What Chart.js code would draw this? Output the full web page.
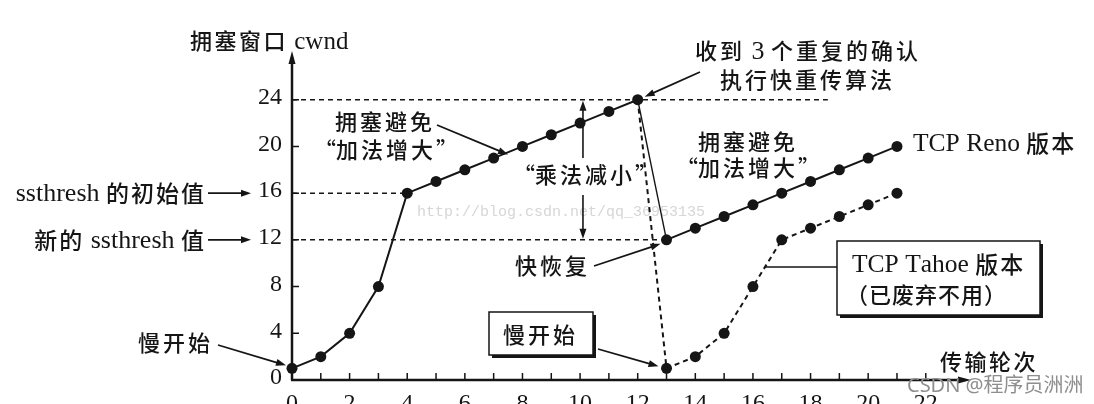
<!DOCTYPE html>
<html>
<head>
<meta charset="utf-8">
<script src="https://cdn.jsdelivr.net/npm/chart.js@4.4.0/dist/chart.umd.min.js"></script>
<style>
  html, body { margin: 0; padding: 0; background: #fff; overflow: hidden; }
</style>
</head>
<body>
<canvas id="tcpChart" width="1094" height="404"></canvas>
<script>
// --- DATA ---
const rounds = [0, 1, 2, 3, 4, 5, 6, 7, 8, 9, 10, 11, 12, 13, 14, 15, 16, 17, 18, 19, 20, 21];
const renoCwnd = [1, 2, 4, 8, 16, 17, 18, 19, 20, 21, 22, 23, 24, 12, 13, 14, 15, 16, 17, 18, 19, 20];
const tahoeRounds = [12, 13, 14, 15, 16, 17, 18, 19, 20, 21];
const tahoeCwnd = [24, 1, 2, 4, 8, 12, 13, 14, 15, 16];
const yTickValues = [0, 4, 8, 12, 16, 20, 24];
const xTickLabels = [0, 2, 4, 6, 8, 10, 12, 14, 16, 18, 20, 22];
const thresholdLevels = [24, 16, 12];
const thresholdEnds = [18.6, 4, 13];

// --- STYLE ---
const INK = '#151515';
const LATIN = '"Liberation Serif", serif';
const CJK = '"Noto Sans CJK SC", sans-serif';

function toPoints(xs, ys) {
    return xs.map((x, i) => ({ x: x, y: ys[i] }));
}

// --- HELPERS FOR THE ANNOTATION PLUGIN ---
// draws char by char: CJK glyphs get their own size + extra spacing, latin stays serif
function text(ctx, s, x, y, align, size, spacing, latinSize) {
    ctx.save();
    ctx.fillStyle = INK;
    ctx.textAlign = 'left';
    ctx.textBaseline = 'middle';
    const sp = spacing || 0;
    const ls = latinSize || size;
    const isCJK = c => /[\u3000-\u9fff\uff00-\uffef\u201c\u201d]/.test(c);
    const isQuote = c => c === '\u201c' || c === '\u201d';
    const fontOf = c => (isCJK(c) ? '500 ' + size + 'px ' + CJK : ls + 'px ' + LATIN);
    const chars = Array.from(s);
    const widths = chars.map(c => {
        ctx.font = fontOf(c);
        return ctx.measureText(c).width + (isCJK(c) && !isQuote(c) ? sp : 0);
    });
    let total = widths.reduce((a, b) => a + b, 0);
    const last = chars[chars.length - 1];
    if (isCJK(last) && !isQuote(last)) total -= sp;
    let cx = x;
    if (align === 'right') cx = x - total;
    if (align === 'center') cx = x - total / 2;
    chars.forEach((c, i) => {
        ctx.font = fontOf(c);
        ctx.fillText(c, cx, isCJK(c) ? y : y + 1);
        cx += widths[i];
    });
    ctx.restore();
}

function arrow(ctx, x1, y1, x2, y2, width) {
    const a = Math.atan2(y2 - y1, x2 - x1);
    const len = 10, half = 3.5;
    ctx.save();
    ctx.strokeStyle = INK;
    ctx.fillStyle = INK;
    ctx.lineWidth = width || 1.8;
    ctx.beginPath();
    ctx.moveTo(x1, y1);
    ctx.lineTo(x2 - Math.cos(a) * len * 0.7, y2 - Math.sin(a) * len * 0.7);
    ctx.stroke();
    ctx.beginPath();
    ctx.moveTo(x2, y2);
    ctx.lineTo(x2 - Math.cos(a) * len - Math.sin(a) * half, y2 - Math.sin(a) * len + Math.cos(a) * half);
    ctx.lineTo(x2 - Math.cos(a) * len + Math.sin(a) * half, y2 - Math.sin(a) * len - Math.cos(a) * half);
    ctx.closePath();
    ctx.fill();
    ctx.restore();
}

function line(ctx, x1, y1, x2, y2, width) {
    ctx.save();
    ctx.strokeStyle = INK;
    ctx.lineWidth = width || 1.5;
    ctx.beginPath();
    ctx.moveTo(x1, y1);
    ctx.lineTo(x2, y2);
    ctx.stroke();
    ctx.restore();
}

function shadowBox(ctx, x, y, w, h) {
    ctx.save();
    ctx.fillStyle = INK;
    ctx.fillRect(x + 3, y + 3, w, h);
    ctx.fillStyle = '#fff';
    ctx.fillRect(x, y, w, h);
    ctx.strokeStyle = INK;
    ctx.lineWidth = 1.5;
    ctx.strokeRect(x, y, w, h);
    ctx.restore();
}

const annotations = {
    id: 'annotations',
    beforeDatasetsDraw(chart) {
        const ctx = chart.ctx;
        ctx.save();
        ctx.font = '15px "Liberation Mono", monospace';
        ctx.fillStyle = '#d6d6d6';
        ctx.textBaseline = 'middle';
        ctx.fillText('http://blog.csdn.net/qq_36953135', 417, 212);
        ctx.restore();
    },
    afterDatasetsDraw(chart) {
        const ctx = chart.ctx;
        const xs = chart.scales.x, ys = chart.scales.y;
        const px = v => xs.getPixelForValue(v);
        const py = v => ys.getPixelForValue(v);
        const x0 = px(0), y0 = py(0);
        const area = chart.chartArea;

        // axes with arrow heads
        ctx.save();
        ctx.strokeStyle = INK;
        ctx.lineWidth = 2.5;
        ctx.beginPath();
        ctx.moveTo(x0, y0);
        ctx.lineTo(x0, area.top + 4);
        ctx.moveTo(x0 - 1, y0);
        ctx.lineTo(area.right - 4, y0);
        ctx.stroke();
        ctx.fillStyle = INK;
        ctx.beginPath();
        ctx.moveTo(x0, area.top - 2);
        ctx.lineTo(x0 - 3.5, area.top + 11);
        ctx.lineTo(x0 + 3.5, area.top + 11);
        ctx.closePath();
        ctx.fill();
        ctx.beginPath();
        ctx.moveTo(area.right + 2, y0);
        ctx.lineTo(area.right - 11, y0 - 3.5);
        ctx.lineTo(area.right - 11, y0 + 3.5);
        ctx.closePath();
        ctx.fill();

        // inward ticks
        ctx.lineWidth = 1.5;
        ctx.beginPath();
        yTickValues.forEach(v => {
            if (v === 0) return;
            ctx.moveTo(x0, py(v));
            ctx.lineTo(x0 + 7, py(v));
        });
        for (let r = 1; r <= 22; r++) {
            ctx.moveTo(px(r), y0);
            ctx.lineTo(px(r), y0 - 7);
        }
        ctx.stroke();
        ctx.restore();

        // tick labels
        yTickValues.forEach(v => text(ctx, String(v), x0 - 10, py(v) - 3, 'right', 24));
        xTickLabels.forEach(v => text(ctx, String(v), px(v), 403, 'center', 24));

        // axis titles
        text(ctx, '拥塞窗口 cwnd', 190, 41, 'left', 22, 2.5, 25);
        text(ctx, '传输轮次', 940, 362, 'left', 22, 2.5);

        // ssthresh labels
        text(ctx, 'ssthresh 的初始值', 204, py(16), 'right', 23, 2, 26);
        arrow(ctx, 208, py(16), 251, py(16), 1.6);
        text(ctx, '新的 ssthresh 值', 204, py(12), 'right', 23, 2, 26);
        arrow(ctx, 208, py(12), 251, py(12), 1.6);

        // slow start (left)
        text(ctx, '慢开始', 138, 343, 'left', 22, 3);
        arrow(ctx, 218, 345, px(0) - 6, py(1) - 3);

        // congestion avoidance (left)
        text(ctx, '拥塞避免', 335, 122, 'left', 22, 3);
        text(ctx, '“加法增大”', 314, 150, 'left', 22, 3);
        arrow(ctx, 437, 125, px(7.5), py(19.3));

        // fast retransmit
        text(ctx, '收到 3 个重复的确认', 695, 51, 'left', 22, 3, 26);
        text(ctx, '执行快重传算法', 720, 80, 'left', 22, 3);
        arrow(ctx, 700, 72, px(12) + 7, py(24) - 3);

        // multiplicative decrease
        text(ctx, '“乘法减小”', 513, 175, 'left', 22, 3);
        arrow(ctx, px(10.1), 158, px(10.1), py(24) + 1, 1.6);
        arrow(ctx, px(10.1), 195, px(10.1), py(12) - 1, 1.6);

        // congestion avoidance (right)
        text(ctx, '拥塞避免', 698, 142, 'left', 22, 3);
        text(ctx, '“加法增大”', 676, 168, 'left', 22, 3);

        // Reno label
        text(ctx, 'TCP Reno 版本', 913, 143, 'left', 23, 2, 25.5);

        // fast recovery
        text(ctx, '快恢复', 515, 266, 'left', 22, 3);
        arrow(ctx, 594, 266, px(13) - 6, py(12) + 4);

        // slow start box
        shadowBox(ctx, 489, 312, 104, 43);
        text(ctx, '慢开始', 503, 335, 'left', 22, 3);
        arrow(ctx, 598, 349, px(13) - 8, py(1) - 2);

        // Tahoe box
        line(ctx, 765, 267, 837, 267, 1.5);
        shadowBox(ctx, 837, 241, 203, 74);
        text(ctx, 'TCP Tahoe 版本', 852, 264, 'left', 23, 2, 25.5);
        text(ctx, '（已废弃不用）', 846, 295, 'left', 22, 1);

        // watermark
        ctx.save();
        ctx.font = '20px "Noto Sans", "Noto Sans CJK SC", sans-serif';
        ctx.fillStyle = '#8e8e8e';
        ctx.textBaseline = 'middle';
        ctx.fillText('CSDN @程序员洲洲', 907, 386);
        ctx.restore();
    }
};

// --- CHART ---
const datasets = [
    {
        label: 'TCP Reno',
        data: toPoints(rounds, renoCwnd),
        showLine: true,
        borderColor: INK,
        borderWidth: 2,
        segment: { borderWidth: c => (c.p0.parsed.x === 12 ? 1.4 : 2) },
        pointRadius: 5.5,
        pointBackgroundColor: INK,
        pointBorderWidth: 0,
        clip: false
    },
    {
        label: 'TCP Tahoe',
        data: toPoints(tahoeRounds, tahoeCwnd),
        showLine: true,
        borderColor: INK,
        borderWidth: 2,
        borderDash: [5, 4],
        pointRadius: c => (c.dataIndex === 0 ? 0 : 5.5),
        pointBackgroundColor: INK,
        pointBorderWidth: 0,
        clip: false
    }
];
thresholdLevels.forEach((lvl, i) => {
    datasets.push({
        label: 'level ' + lvl,
        data: [{ x: 0, y: lvl }, { x: thresholdEnds[i], y: lvl }],
        showLine: true,
        borderColor: INK,
        borderWidth: 1.5,
        borderDash: [5, 4],
        pointRadius: 0,
        clip: false
    });
});

new Chart(document.getElementById('tcpChart').getContext('2d'), {
    type: 'scatter',
    data: { datasets: datasets },
    options: {
        responsive: false,
        devicePixelRatio: 1,
        animation: false,
        events: [],
        layout: { padding: { left: 292, right: 125, top: 53, bottom: 24 } },
        scales: {
            x: { type: 'linear', min: 0, max: 23.5, display: false },
            y: { type: 'linear', min: 0, max: 28, display: false }
        },
        plugins: { legend: { display: false }, tooltip: { enabled: false } }
    },
    plugins: [annotations]
});
</script>
</body>
</html>
